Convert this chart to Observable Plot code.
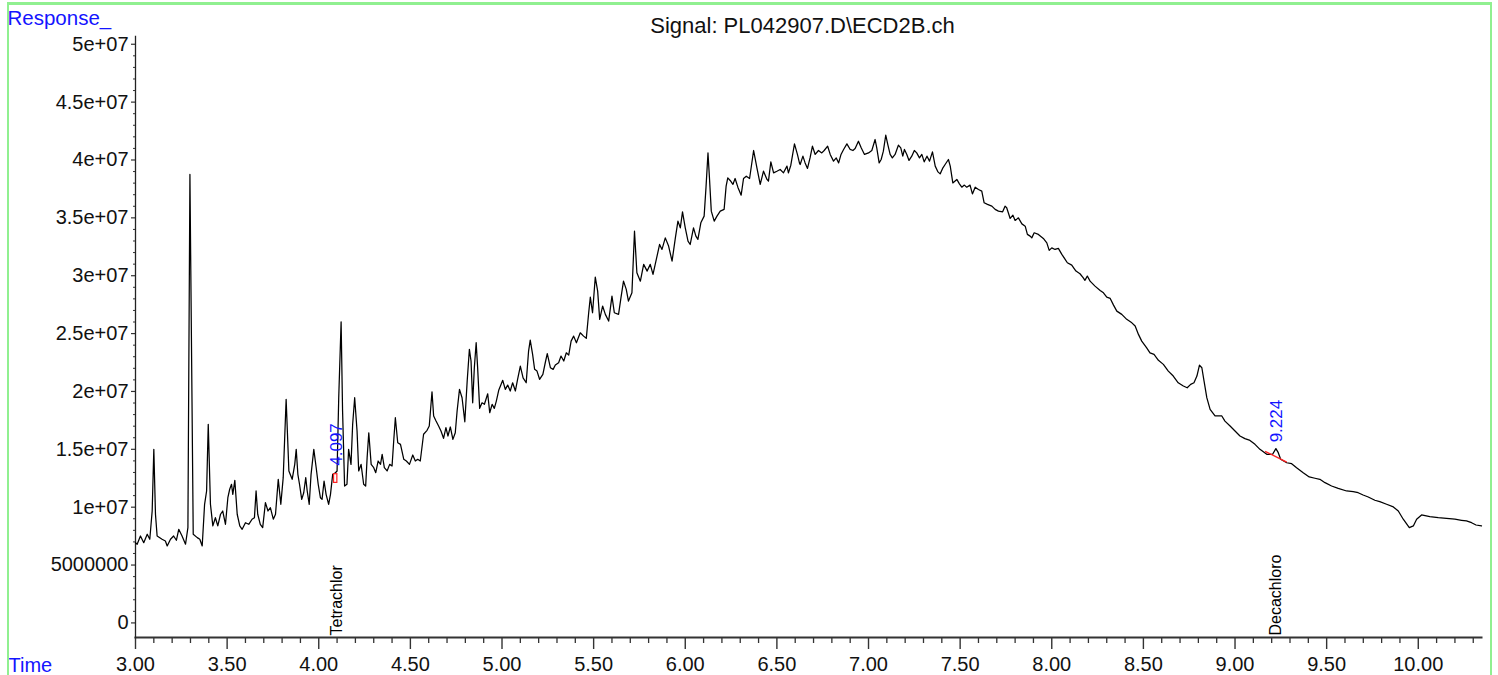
<!DOCTYPE html>
<html>
<head>
<meta charset="utf-8">
<script src="https://cdn.jsdelivr.net/npm/d3@7"></script>
<script src="https://cdn.jsdelivr.net/npm/@observablehq/plot@0.6"></script>
<style>
html, body { margin: 0; padding: 0; background: #ffffff; }
#chart { position: relative; width: 1498px; height: 675px; overflow: hidden; background: #ffffff; }
#chart svg { display: block; }
.gb { position: absolute; background: #90f090; }
</style>
</head>
<body>
<div id="chart"></div>
<script>
// Retention time (min)
const time = [
  3.000, 3.009, 3.027, 3.045, 3.064, 3.078, 3.091, 3.100, 3.109, 3.118,
  3.145, 3.163, 3.173, 3.191, 3.208, 3.223, 3.236, 3.254, 3.273, 3.286,
  3.297, 3.315, 3.337, 3.351, 3.364, 3.377, 3.388, 3.397, 3.409, 3.422,
  3.436, 3.449, 3.464, 3.476, 3.491, 3.504, 3.514, 3.524, 3.531, 3.542,
  3.555, 3.569, 3.582, 3.600, 3.618, 3.636, 3.649, 3.658, 3.667, 3.681,
  3.694, 3.709, 3.723, 3.736, 3.752, 3.764, 3.779, 3.793, 3.806, 3.822,
  3.837, 3.855, 3.869, 3.877, 3.886, 3.895, 3.907, 3.918, 3.929, 3.937,
  3.948, 3.958, 3.973, 3.986, 3.997, 4.009, 4.018, 4.029, 4.040, 4.054,
  4.064, 4.076, 4.091, 4.100, 4.109, 4.122, 4.130, 4.141, 4.154, 4.163,
  4.176, 4.185, 4.196, 4.209, 4.218, 4.231, 4.245, 4.256, 4.264, 4.273,
  4.286, 4.300, 4.311, 4.324, 4.337, 4.346, 4.358, 4.373, 4.387, 4.400,
  4.409, 4.418, 4.431, 4.446, 4.464, 4.478, 4.495, 4.513, 4.527, 4.540,
  4.554, 4.572, 4.591, 4.603, 4.618, 4.627, 4.640, 4.654, 4.667, 4.681,
  4.694, 4.705, 4.718, 4.732, 4.745, 4.755, 4.768, 4.782, 4.797, 4.810,
  4.822, 4.831, 4.840, 4.849, 4.859, 4.867, 4.878, 4.891, 4.904, 4.922,
  4.933, 4.946, 4.958, 4.969, 4.982, 5.004, 5.018, 5.031, 5.045, 5.058,
  5.073, 5.085, 5.100, 5.115, 5.132, 5.145, 5.154, 5.167, 5.178, 5.191,
  5.205, 5.223, 5.236, 5.247, 5.264, 5.279, 5.291, 5.309, 5.322, 5.337,
  5.351, 5.364, 5.377, 5.391, 5.406, 5.427, 5.445, 5.460, 5.473, 5.482,
  5.494, 5.509, 5.522, 5.533, 5.549, 5.564, 5.582, 5.600, 5.613, 5.636,
  5.649, 5.663, 5.678, 5.690, 5.709, 5.723, 5.736, 5.755, 5.773, 5.792,
  5.809, 5.824, 5.842, 5.860, 5.873, 5.891, 5.909, 5.928, 5.946, 5.960,
  5.973, 5.985, 6.000, 6.015, 6.027, 6.045, 6.058, 6.069, 6.085, 6.103,
  6.113, 6.124, 6.132, 6.142, 6.158, 6.173, 6.191, 6.212, 6.223, 6.232,
  6.245, 6.260, 6.272, 6.287, 6.305, 6.318, 6.333, 6.351, 6.373, 6.391,
  6.409, 6.427, 6.446, 6.454, 6.467, 6.482, 6.500, 6.518, 6.536, 6.555,
  6.563, 6.576, 6.596, 6.612, 6.623, 6.627, 6.642, 6.654, 6.667, 6.681,
  6.694, 6.709, 6.727, 6.745, 6.758, 6.777, 6.791, 6.809, 6.824, 6.837,
  6.850, 6.864, 6.882, 6.900, 6.915, 6.927, 6.945, 6.960, 6.978, 7.000,
  7.018, 7.036, 7.045, 7.058, 7.069, 7.081, 7.094, 7.105, 7.118, 7.130,
  7.145, 7.163, 7.176, 7.187, 7.196, 7.209, 7.221, 7.236, 7.250, 7.263,
  7.278, 7.291, 7.304, 7.319, 7.333, 7.349, 7.364, 7.379, 7.391, 7.406,
  7.418, 7.436, 7.446, 7.460, 7.482, 7.496, 7.509, 7.523, 7.536, 7.554,
  7.567, 7.582, 7.600, 7.618, 7.631, 7.649, 7.673, 7.691, 7.709, 7.732,
  7.745, 7.754, 7.773, 7.788, 7.800, 7.818, 7.837, 7.855, 7.867, 7.882,
  7.891, 7.904, 7.927, 7.954, 7.973, 7.986, 8.000, 8.018, 8.036, 8.055,
  8.073, 8.085, 8.109, 8.132, 8.154, 8.172, 8.181, 8.194, 8.209, 8.236,
  8.264, 8.282, 8.300, 8.319, 8.337, 8.355, 8.382, 8.409, 8.437, 8.455,
  8.473, 8.491, 8.518, 8.536, 8.558, 8.582, 8.609, 8.636, 8.663, 8.690,
  8.718, 8.739, 8.758, 8.776, 8.792, 8.806, 8.819, 8.831, 8.846, 8.864,
  8.891, 8.928, 8.945, 8.973, 9.000, 9.027, 9.054, 9.078, 9.109, 9.136,
  9.173, 9.205, 9.223, 9.236, 9.249, 9.282, 9.309, 9.336, 9.372, 9.405,
  9.436, 9.463, 9.491, 9.527, 9.563, 9.609, 9.645, 9.672, 9.699, 9.727,
  9.763, 9.790, 9.827, 9.864, 9.891, 9.918, 9.951, 9.973, 9.991, 10.018,
  10.063, 10.109, 10.154, 10.200, 10.236, 10.263, 10.291, 10.315, 10.345
];

// Detector response, in millions of counts
const responseMillions = [
  6.93, 6.80, 7.51, 6.93, 7.66, 7.23, 9.67, 15.00, 9.39, 7.51,
  7.23, 7.08, 6.65, 7.23, 7.51, 7.14, 8.09, 7.51, 6.80, 8.23,
  38.75, 7.66, 7.37, 7.23, 6.65, 10.25, 11.40, 17.16, 10.25, 8.38,
  9.09, 8.38, 9.39, 9.67, 8.52, 10.82, 11.55, 11.98, 11.11, 12.32,
  9.39, 8.38, 8.09, 8.66, 8.52, 8.96, 9.09, 11.40, 9.39, 8.52,
  8.23, 10.39, 9.67, 9.96, 8.96, 9.39, 12.41, 10.25, 12.55, 19.32,
  13.13, 12.41, 13.70, 15.00, 12.84, 11.98, 10.68, 11.25, 12.55, 11.40,
  10.25, 12.84, 15.00, 13.41, 11.98, 10.82, 10.68, 12.26, 11.11, 10.25,
  11.11, 12.84, 12.98, 13.13, 19.46, 26.02, 18.31, 11.83, 11.98, 15.00,
  13.70, 17.16, 19.46, 16.58, 13.13, 13.70, 11.98, 11.83, 14.28, 16.43,
  13.70, 13.41, 12.98, 13.99, 13.70, 14.57, 13.41, 13.13, 13.70, 13.56,
  15.72, 17.73, 15.57, 15.43, 14.14, 13.99, 13.70, 14.51, 13.99, 14.14,
  13.99, 16.30, 16.64, 17.01, 19.97, 17.88, 17.44, 17.01, 16.58, 15.95,
  16.87, 16.15, 16.93, 15.86, 16.43, 18.31, 20.18, 19.46, 17.38, 20.90,
  23.64, 22.63, 19.02, 22.05, 24.21, 22.05, 18.54, 19.02, 18.89, 19.80,
  18.16, 18.89, 18.54, 19.17, 20.10, 20.96, 20.18, 20.55, 20.04, 20.75,
  20.04, 21.05, 22.19, 21.18, 20.75, 23.49, 24.44, 23.20, 21.91, 21.76,
  21.05, 21.48, 22.48, 23.26, 22.05, 21.91, 22.28, 22.48, 23.06, 22.63,
  23.34, 23.14, 24.35, 24.78, 24.21, 25.07, 24.78, 24.59, 26.80, 28.15,
  26.80, 29.88, 28.67, 26.23, 27.38, 26.66, 26.08, 28.24, 26.80, 26.66,
  28.09, 29.53, 28.82, 27.81, 28.52, 33.85, 30.25, 29.53, 30.98, 30.40,
  30.98, 30.11, 31.41, 32.70, 32.27, 33.27, 32.56, 31.26, 33.27, 34.72,
  34.14, 35.52, 34.14, 32.99, 32.70, 34.14, 33.42, 33.14, 34.57, 35.15,
  37.59, 40.61, 38.46, 35.58, 34.72, 35.15, 35.58, 35.73, 37.74, 38.46,
  38.23, 37.89, 38.40, 37.65, 36.96, 38.40, 38.60, 38.40, 40.82, 39.32,
  37.89, 39.03, 38.32, 38.17, 39.84, 38.89, 39.03, 39.18, 38.89, 39.47,
  38.89, 39.55, 41.39, 40.48, 39.75, 39.61, 40.33, 39.75, 39.27, 40.18,
  41.19, 40.48, 40.82, 40.61, 40.82, 41.19, 40.48, 39.90, 40.18, 39.75,
  40.48, 40.91, 41.39, 40.91, 40.82, 40.99, 41.62, 41.05, 40.48, 40.61,
  40.82, 41.77, 41.05, 39.75, 40.04, 40.76, 42.14, 41.34, 40.48, 40.18,
  40.48, 41.28, 41.05, 40.33, 40.91, 40.48, 39.96, 40.33, 40.82, 40.61,
  40.18, 40.48, 39.84, 40.33, 39.90, 40.70, 39.47, 38.97, 38.80, 39.32,
  39.61, 40.04, 39.47, 38.02, 38.32, 37.94, 37.65, 37.83, 37.65, 37.83,
  37.07, 37.65, 37.45, 37.31, 36.30, 36.16, 36.01, 35.73, 35.58, 35.52,
  36.01, 35.87, 34.95, 35.23, 34.78, 35.00, 34.48, 34.28, 33.57, 33.42,
  33.27, 33.71, 33.57, 33.22, 32.84, 32.19, 32.41, 32.27, 32.36, 31.84,
  31.41, 31.12, 30.92, 30.40, 30.17, 29.82, 29.60, 29.97, 29.53, 29.10,
  28.73, 28.52, 28.15, 28.04, 27.46, 26.94, 26.66, 26.23, 25.93, 25.65,
  24.93, 24.35, 23.77, 23.34, 23.20, 22.69, 22.34, 21.76, 21.33, 20.75,
  20.47, 20.32, 20.61, 20.75, 21.33, 22.28, 22.05, 20.90, 19.46, 18.45,
  17.88, 17.88, 17.44, 17.01, 16.58, 16.15, 15.92, 15.80, 15.43, 15.00,
  14.57, 14.57, 15.06, 14.71, 14.14, 13.84, 13.76, 13.41, 12.98, 12.61,
  12.50, 12.41, 12.12, 11.83, 11.63, 11.40, 11.34, 11.25, 11.05, 10.88,
  10.60, 10.48, 10.25, 10.02, 9.67, 8.96, 8.23, 8.38, 8.96, 9.33,
  9.18, 9.09, 9.04, 8.96, 8.87, 8.81, 8.66, 8.46, 8.38
];

// Integrated peaks (retention time label, label base response)
const peakTimes = [4.097, 9.224];
const peakLabels = ["4.097", "9.224"];
const peakLabelBase = [13.58e6, 15.60e6];

// Compound names shown at the bottom
const compoundTimes = [4.097, 9.224];
const compoundNames = ["Tetrachlor", "Decachloro"];

// Integration baselines drawn in red
const baseStartTime = [4.0835, 9.164];
const baseEndTime = [4.1015, 9.282];
const baseStartResp = [12.10e6, 14.83e6];
const baseEndResp = [12.85e6, 13.90e6];

// Axis tick values
const xMajorTicks = d3.range(6, 21).map(k => k / 2);
const xMinorTicks = d3.range(30, 104).filter(k => k % 5 !== 0).map(k => k / 10);
const yMajorTicks = d3.range(0, 11).map(k => k * 5e6);
const yMinorTicks = d3.range(0, 51).filter(k => k % 5 !== 0).map(k => k * 1e6);

const titleText = "Signal: PL042907.D\\ECD2B.ch";
const yTitle = "Response_";
const xTitle = "Time";

const trace = time.map((t, i) => ({t, r: responseMillions[i] * 1e6}));
const peaks = peakTimes.map((t, i) => ({t, label: peakLabels[i], base: peakLabelBase[i]}));
const compounds = compoundTimes.map((t, i) => ({t, name: compoundNames[i]}));
const baselines = baseStartTime.map((t, i) => ({x1: t, x2: baseEndTime[i], y1: baseStartResp[i], y2: baseEndResp[i]}));

const fmtY = d => d === 0 ? "0" : d < 1e7 ? String(d) : (Math.round(d / 1e6) / 10) + "e+07";
const blue = "#1414ff";
const font = "'Liberation Sans', Arial, Helvetica, sans-serif";

const chart = Plot.plot({
  width: 1498,
  height: 675,
  marginLeft: 135,
  marginRight: 17,
  marginTop: 36,
  marginBottom: 38,
  style: {fontFamily: font, fontSize: "20px", background: "white", overflow: "visible", color: "#111"},
  x: {domain: [3, 10.345], label: null},
  y: {domain: [-1.26e6, 50.67e6], label: null},
  marks: [
    Plot.axisX({ticks: xMinorTicks, tickSize: 6, tickFormat: () => "", stroke: "#333", strokeWidth: 1.3, label: null}),
    Plot.axisX({ticks: xMajorTicks, tickSize: 12, tickPadding: 7, tickFormat: d3.format(".2f"), fontSize: 20, stroke: "#333", strokeWidth: 1.4, fill: "#111", label: null}),
    Plot.axisY({ticks: yMinorTicks, tickSize: 2, tickFormat: () => "", stroke: "#333", strokeWidth: 1, label: null}),
    Plot.axisY({ticks: yMajorTicks, tickSize: 4, tickFormat: () => "", stroke: "#333", strokeWidth: 1.2, label: null}),
    Plot.text(yMajorTicks, {y: d => d, text: fmtY, frameAnchor: "left", dx: -7, textAnchor: "end", lineAnchor: "middle", fontSize: 20, fill: "#111"}),
    Plot.frame({anchor: "bottom", stroke: "#333", strokeWidth: 2}),
    Plot.frame({anchor: "left", stroke: "#222", strokeWidth: 1.3}),
    Plot.line(trace, {x: "t", y: "r", stroke: "#000", strokeWidth: 1.25}),
    Plot.rect(baselines.slice(0, 1), {x1: "x1", x2: "x2", y1: "y1", y2: "y2", stroke: "#ff2020", fill: "none", strokeWidth: 1.2}),
    Plot.link(baselines.slice(1), {x1: "x1", x2: "x2", y1: "y1", y2: "y2", stroke: "#ff2020", strokeWidth: 1.4}),
    Plot.text(peaks, {x: "t", y: "base", text: "label", rotate: -90, textAnchor: "start", lineAnchor: "middle", fill: blue, fontSize: 17}),
    Plot.text(compounds, {x: "t", frameAnchor: "bottom", dy: -2, text: "name", rotate: -90, textAnchor: "start", lineAnchor: "middle", fill: "#000", fontSize: 16}),
    Plot.text([titleText], {text: d => d, frameAnchor: "top", dx: -6, dy: -11, lineAnchor: "middle", fontSize: 22, fill: "#111"}),
    Plot.text([yTitle], {text: d => d, frameAnchor: "top-left", dx: -128, dy: -18, textAnchor: "start", lineAnchor: "middle", fontSize: 20.5, fill: blue}),
    Plot.text([xTitle], {text: d => d, frameAnchor: "bottom-left", dx: -127, dy: 27.6, textAnchor: "start", lineAnchor: "middle", fontSize: 20, fill: blue})
  ]
});

const root = document.getElementById("chart");
root.append(chart);
// light green page frame
[["2px", "7px", "1485px", "3px"], ["2px", "7px", "2px", "673px"], ["2px", "1490px", "2px", "673px"]].forEach(([top, left, w, h]) => {
  const d = document.createElement("div");
  d.className = "gb";
  d.style.top = top; d.style.left = left; d.style.width = w; d.style.height = h;
  root.append(d);
});
</script>
</body>
</html>
